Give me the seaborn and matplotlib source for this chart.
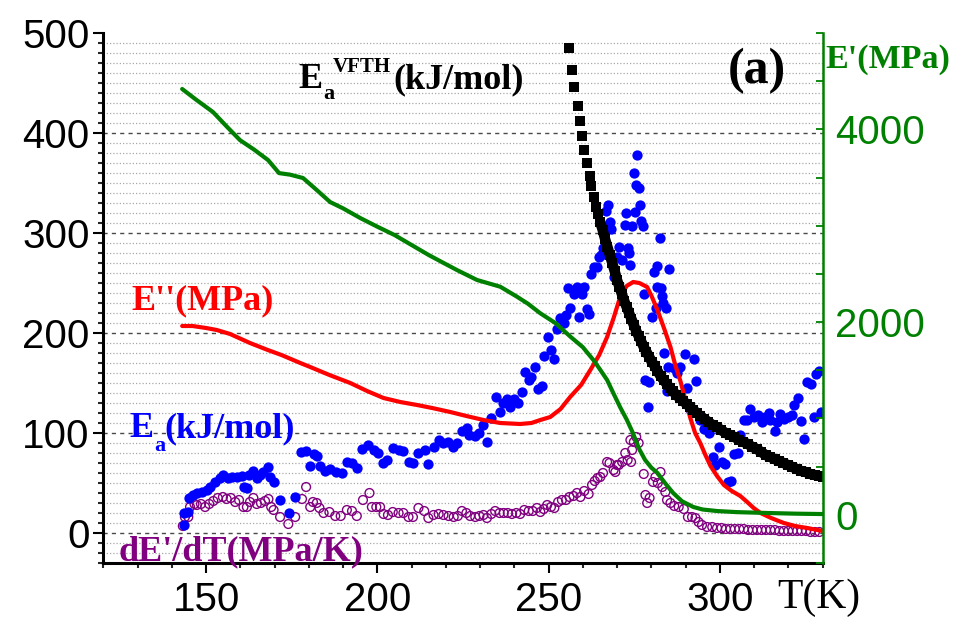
import numpy as np
import pandas as pd
import matplotlib
matplotlib.use("Agg")
import matplotlib.pyplot as plt
import seaborn as sns
from matplotlib.ticker import MultipleLocator, FixedLocator, NullFormatter

# ---------------- data ----------------
# Ea (kJ/mol), blue filled dots, left axis
ea_T = [143.4, 143.6, 144.8, 145.1, 146.3, 147.3, 148.7, 150.2, 151.2, 152.6, 154.1, 155.0,
        156.5, 157.5, 159.0, 160.4, 161.2, 161.9, 162.6, 163.8, 164.8, 165.8, 166.7, 168.2,
        168.7, 169.7, 171.6, 174.2, 176.0, 177.7, 179.2, 180.4, 181.5, 182.5, 183.3, 184.8,
        186.2, 188.0, 189.6, 191.1, 192.6, 194.0, 195.5, 197.4, 198.9, 200.3, 201.6, 202.8,
        204.7, 206.2, 207.6, 209.1, 210.4, 212.0, 213.8, 214.8, 216.4, 218.0, 219.2, 220.6,
        222.0, 223.4, 224.7, 226.2, 226.8, 228.4, 229.6, 230.8, 232.0, 233.3, 234.6, 235.7,
        236.7, 237.8, 238.8, 240.0, 241.1, 242.2, 243.0, 244.2, 245.0, 245.9, 246.9, 248.1,
        248.8, 249.8, 250.7, 251.5, 252.5, 253.4, 254.4, 255.1, 255.6, 256.4, 257.3, 258.3,
        259.0, 259.8, 260.4, 261.2, 261.9, 262.5, 263.2, 264.2, 264.6, 265.3, 265.9, 266.9,
        267.5, 267.8, 268.3, 269.2, 270.0, 270.7, 271.5, 272.2, 272.6, 273.1, 273.5, 273.9,
        274.4, 274.9, 275.2, 275.6, 275.9, 276.3, 276.6, 277.0, 277.5, 277.8, 278.1, 278.9,
        279.4, 280.2, 280.9, 281.5, 281.7, 281.8, 282.4, 282.9, 283.2, 283.4, 283.8, 284.4,
        284.6, 284.9, 285.3, 286.1, 286.5, 287.5, 288.5, 289.7, 290.5, 291.2, 292.4, 293.2,
        294.1, 295.3, 297.0, 298.0, 298.7, 299.7, 300.7, 301.6, 302.4, 303.4, 304.1, 305.2,
        306.0, 307.0, 308.0, 308.8, 309.9, 311.1, 312.4, 313.3, 314.3, 314.8, 316.0, 316.8,
        317.5, 318.7, 319.9, 321.1, 321.8, 322.8, 323.8, 324.5, 325.5, 326.5, 327.5, 328.2,
        329.0, 329.6]
ea_val = [8, 20, 21, 35, 38, 40, 41, 43, 46, 51, 55, 58,
          55, 56, 56, 57, 46, 45, 58, 62, 55, 58, 61, 66,
          56, 51, 33, 20, 36, 81, 82, 67, 79, 77, 67, 62,
          64, 61, 60, 71, 70, 65, 84, 88, 83, 80, 70, 73,
          85, 83, 82, 71, 70, 80, 83, 69, 86, 93, 90, 91,
          86, 90, 102, 105, 98, 97, 100, 108, 91, 115, 136, 121,
          130, 134, 126, 134, 130, 141, 161, 153, 156, 166, 144, 147,
          177, 196, 183, 174, 204, 215, 210, 218, 245, 225, 239, 246,
          216, 239, 246, 224, 219, 259, 266, 266, 276, 278, 285, 322,
          328, 311, 304, 256, 276, 286, 273, 308, 320, 285, 280, 268,
          307, 360, 321, 348, 378, 345, 328, 312, 307, 239, 153, 126,
          151, 216, 261, 225, 267, 246, 295, 245, 237, 230, 180, 225,
          142, 166, 264, 142, 165, 160, 166, 179, 145, 124, 174, 152,
          113, 104, 100, 76, 68, 86, 71, 69, 51, 52, 79, 80,
          98, 113, 113, 124, 116, 118, 111, 116, 120, 113, 102, 111,
          119, 114, 116, 118, 128, 135, 112, 94, 151, 149, 116, 159,
          162, 121]

# dE'/dT (MPa/K), purple open circles, left axis
de_T = [143.2, 143.8, 144.8, 145.3, 146.6, 147.3, 148.5, 149.7, 150.9, 152.1, 153.4, 154.9,
        156.0, 157.2, 158.5, 159.6, 160.9, 161.9, 162.8, 163.8, 164.8, 166.0, 167.2, 168.2,
        169.0, 169.7, 171.6, 174.0, 176.0, 178.0, 179.2, 180.4, 181.2, 182.3, 183.1, 184.3,
        186.0, 187.7, 189.3, 191.1, 192.6, 194.0, 195.8, 197.7, 198.4, 199.7, 200.8, 201.8,
        203.1, 204.5, 206.2, 207.6, 209.1, 210.4, 212.0, 213.7, 214.9, 216.4, 217.9, 219.3,
        220.8, 222.3, 223.5, 224.7, 226.0, 227.1, 228.6, 229.8, 231.0, 232.0, 233.3, 234.4,
        235.7, 236.9, 238.1, 239.3, 240.6, 241.7, 242.9, 244.2, 245.4, 246.6, 247.6, 248.6,
        249.6, 250.7, 251.7, 252.8, 253.9, 255.1, 256.1, 257.3, 258.3, 259.3, 260.4, 261.7,
        262.7, 263.5, 264.3, 265.1, 265.9, 267.1, 267.8, 269.0, 269.5, 270.0, 270.5, 271.5,
        272.4, 273.1, 273.9, 274.1, 274.4, 274.9, 275.6, 276.3, 277.8, 278.3, 278.8, 279.5,
        280.5, 281.2, 281.9, 282.7, 283.2, 284.1, 284.6, 285.6, 286.7, 288.0, 289.5, 290.7,
        291.9, 292.9, 293.8, 294.8, 296.3, 297.8, 299.2, 300.5, 301.8, 303.1, 304.4, 305.7,
        307.0, 308.3, 309.6, 310.9, 312.2, 313.5, 314.8, 316.1, 317.4, 318.7, 320.0, 321.3,
        322.6, 323.9, 325.2, 326.5, 327.8, 329.1]
de_val = [7, 16, 16, 26, 29, 28, 29, 26, 29, 32, 35, 36,
          34, 35, 31, 33, 26, 26, 31, 35, 29, 30, 32, 34,
          26, 23, 16, 9, 16, 34, 46, 26, 31, 30, 25, 20,
          21, 17, 17, 23, 22, 17, 33, 40, 26, 26, 26, 19,
          18, 21, 20, 20, 16, 16, 25, 22, 15, 18, 19, 18,
          17, 16, 17, 22, 20, 17, 16, 17, 18, 15, 19, 22,
          20, 20, 20, 19, 20, 19, 23, 22, 22, 25, 21, 24,
          28, 26, 25, 31, 33, 33, 36, 37, 40, 36, 42, 39,
          48, 52, 55, 56, 60, 71, 70, 63, 61, 68, 68, 71,
          80, 73, 93, 71, 83, 91, 96, 90, 59, 38, 30, 35,
          51, 56, 50, 61, 46, 41, 33, 30, 27, 26, 24, 16,
          16, 15, 11, 8, 6, 6, 5, 5, 4, 4, 4, 4,
          4, 3, 3, 3, 3, 3, 3, 3, 2, 2, 2, 2,
          2, 2, 2, 1, 1, 1]

# E'' (MPa), red line, left axis
el_T = [143.0, 146.0, 150.0, 153.1, 157.0, 162.8, 168.0, 172.0, 177.5, 180.4, 186.0, 192.1,
        197.0, 201.8, 206.7, 211.6, 216.0, 221.3, 226.0, 231.0, 235.9, 241.7, 245.0, 247.6,
        250.5, 253.5, 256.3, 259.5, 262.2, 264.8, 267.1, 269.0, 270.9, 272.8, 274.7, 276.5,
        278.8, 280.2, 281.8, 283.7, 285.6, 287.0, 288.5, 290.0, 291.4, 292.8, 294.3, 295.8,
        297.3, 299.2, 301.2, 303.5, 306.0, 308.0, 309.9, 311.9, 315.0, 318.7, 322.0, 325.5, 330.0]
el_val = [207, 207, 205, 203, 199, 190, 183, 178, 170, 166, 158, 150,
          142, 135, 131, 128, 125, 121, 117, 113, 110, 109, 110, 113,
          116, 124, 136, 148, 163, 178, 196, 215, 236, 247, 251, 250,
          246, 236, 223, 205, 186, 168, 152, 133, 115, 100, 90, 78,
          67, 57, 48, 42, 37, 31, 25, 20, 15, 10, 7, 5, 2]

# E' (MPa), green line, right axis
es_T = [143.0, 147.0, 152.0, 156.0, 159.9, 164.0, 168.1, 171.3, 174.5, 178.3, 182.0, 186.2,
        190.0, 195.0, 200.0, 205.0, 210.0, 215.0, 219.0, 223.2, 229.1, 235.9, 240.8, 244.0,
        247.6, 252.0, 256.4, 260.0, 263.1, 265.0, 267.1, 268.9, 271.0, 272.8, 274.5, 276.5,
        278.2, 280.0, 281.8, 284.0, 286.4, 289.0, 292.3, 295.0, 299.3, 305.0, 313.9, 322.0, 330.0]
es_val = [4419, 4310, 4180, 4030, 3888, 3790, 3681, 3546, 3530, 3495, 3380, 3246,
          3180, 3080, 2990, 2904, 2800, 2696, 2620, 2541, 2437, 2367, 2263, 2190,
          2091, 1990, 1848, 1740, 1606, 1510, 1399, 1264, 1110, 990, 860, 680,
          569, 490, 434, 330, 226, 140, 81, 55, 39, 28, 19, 12, 8]

# Ea VFTH (kJ/mol), black squares, left axis
vf_T = [255.9, 256.8, 257.4, 258.5, 259.2, 259.8, 260.4, 261.2, 262.0, 262.5, 263.2, 264.0,
        264.4, 265.1, 265.8, 266.5, 267.2, 267.9, 268.6, 269.3, 270.0, 270.7, 271.4, 272.1,
        272.8, 273.5, 274.2, 274.9, 275.6, 276.3, 277.0, 277.8, 278.6, 279.4, 280.2, 281.0,
        281.8, 282.7, 283.6, 284.5, 285.4, 286.3, 287.3, 288.3, 289.3, 290.3, 291.3, 292.3,
        293.3, 294.3, 295.5, 296.7, 297.9, 299.1, 300.4, 301.7, 303.0, 304.3, 305.6, 306.9,
        308.2, 309.5, 310.8, 312.1, 313.4, 314.7, 316.0, 317.3, 318.6, 319.9, 321.2, 322.5,
        323.8, 325.1, 326.4, 327.7, 329.0, 330.0]
vf_val = [485, 463, 446, 427, 412, 397, 383, 370, 357, 347, 336, 326,
          319, 311, 303, 294, 286, 278, 270, 262, 253, 246, 239, 232,
          226, 220, 214, 208, 202, 197, 192, 186, 181, 176, 171, 167,
          162, 157, 153, 149, 145, 142, 138, 135, 132, 129, 126, 123,
          120, 117, 114, 111, 108, 106, 103, 100, 98, 96, 93, 91,
          89, 86, 84, 81, 78, 76, 74, 72, 70, 68, 66, 64,
          62, 61, 59, 58, 57, 56]

left_ticks = [0, 100, 200, 300, 400, 500]
right_ticks = [0, 2000, 4000]
x_ticks = [150, 200, 250, 300]

# ---------------- styling ----------------
sns.set_theme(style="ticks")
plt.rcParams["font.family"] = ["Liberation Sans", "DejaVu Sans"]

W, H = 963, 624
fig = plt.figure(figsize=(W / 100, H / 100), dpi=100)
ax = fig.add_axes([103.4 / W, (H - 563) / H, (822.5 - 103.4) / W, 530 / H])
ax2 = ax.twinx()

GREEN = "#008000"
PURPLE = "#800080"
SERIF = ["Liberation Serif", "DejaVu Serif"]

sns.scatterplot(x=de_T, y=de_val, ax=ax, marker="o", s=40, facecolor="none",
                edgecolor=PURPLE, linewidth=1.0, zorder=3)
sns.scatterplot(x=ea_T, y=ea_val, ax=ax, marker="o", s=55, color="#0000ff",
                edgecolor="#0000ff", linewidth=0, zorder=4)
sns.lineplot(x=el_T, y=el_val, ax=ax, color="#ff0000", lw=3, sort=False,
             estimator=None, zorder=5)
# dense part of the VFTH squares merges into a thick band
vf_df = pd.DataFrame({"T": vf_T, "v": vf_val})
band = vf_df[vf_df["T"] >= 265.0]
sns.lineplot(data=band, x="T", y="v", ax=ax, color="black", lw=7.5, sort=False,
             estimator=None, zorder=6, solid_capstyle="butt")
sns.scatterplot(data=vf_df, x="T", y="v", ax=ax, marker="s", s=42, color="black",
                edgecolor="black", linewidth=0, zorder=6)
sns.lineplot(x=es_T, y=es_val, ax=ax2, color=GREEN, lw=3, sort=False,
             estimator=None, zorder=5)

# axes limits and ticks
ax.set_xlim(120, 330)
ax.set_ylim(-30, 500)
ax2.set_ylim(-500, 5000)

ax.xaxis.set_major_locator(FixedLocator(x_ticks))
ax.xaxis.set_minor_locator(MultipleLocator(10))
ax.yaxis.set_major_locator(FixedLocator(left_ticks))
ax.yaxis.set_minor_locator(MultipleLocator(10))
ax.yaxis.set_minor_formatter(NullFormatter())
ax2.yaxis.set_major_locator(FixedLocator(right_ticks))
ax2.yaxis.set_minor_locator(MultipleLocator(500))
ax2.yaxis.set_minor_formatter(NullFormatter())

ax.tick_params(axis="both", which="major", direction="out", length=7, width=1.5,
               labelsize=29, colors="black")
ax.tick_params(axis="both", which="minor", direction="out", length=3.5, width=1.5)
ax.tick_params(axis="y", which="major", pad=3)
ax.tick_params(axis="x", which="major", pad=6)
ax.tick_params(left=True, bottom=True, right=False, top=False, which="both")
ax2.tick_params(axis="y", which="both", direction="in", length=5, width=1.3,
                colors=GREEN, labelsize=29, pad=9, right=True, left=False)

for lab in ax.get_xticklabels() + ax.get_yticklabels() + ax2.get_yticklabels():
    lab.set_family(["Liberation Sans", "DejaVu Sans"])

# grid lines
ax.set_axisbelow(True)
ax.yaxis.grid(True, which="major", linestyle=(0, (3, 3)), color="#4a4a4a", lw=1.0)
ax.yaxis.grid(True, which="minor", linestyle=(0, (1, 1.6)), color="#a8a8a8", lw=0.9)
ax.xaxis.grid(False, which="both")
gl = ax.get_ygridlines()
if len(gl):
    gl[-1].set_visible(False)

# spines
for s in ["top", "right"]:
    ax.spines[s].set_visible(False)
for s in ["top", "left", "bottom"]:
    ax2.spines[s].set_visible(False)
ax.spines["left"].set_linewidth(2.2)
ax.spines["bottom"].set_linewidth(2.2)
ax.spines["left"].set_color("black")
ax.spines["bottom"].set_color("black")
ax2.spines["right"].set_color(GREEN)
ax2.spines["right"].set_linewidth(1.8)

ax.set_xlabel("")
ax.set_ylabel("")
ax2.set_ylabel("")


def ptext(x, y, s, size, color, bold=True):
    fig.text(x / W, 1 - y / H, s, ha="left", va="baseline", fontsize=size,
             color=color, family=SERIF, weight="bold" if bold else "normal")


# E_a^VFTH (kJ/mol)
ptext(298, 88, "E", 26, "black")
ptext(323, 99, "a", 16, "black")
ptext(333, 72, "VFTH", 15, "black")
ptext(393, 88, "(kJ/mol)", 26, "black")
# (a)
ptext(728, 83, "(a)", 36, "black")
# E'(MPa)
ptext(825, 68, "E'(MPa)", 24.5, GREEN)
# E''(MPa)
ptext(131, 309, "E''(MPa)", 26, "#ff0000")
# E_a(kJ/mol)
ptext(129, 437, "E", 26, "#0000ff")
ptext(154, 451, "a", 16, "#0000ff")
ptext(164, 437, "(kJ/mol)", 26, "#0000ff")
# dE'/dT
ptext(118, 560, "dE'/dT(MPa/K)", 26, PURPLE)
# T(K)
ptext(777, 608, "T(K)", 30, "black", bold=False)

fig.savefig("out.png", dpi=100)
